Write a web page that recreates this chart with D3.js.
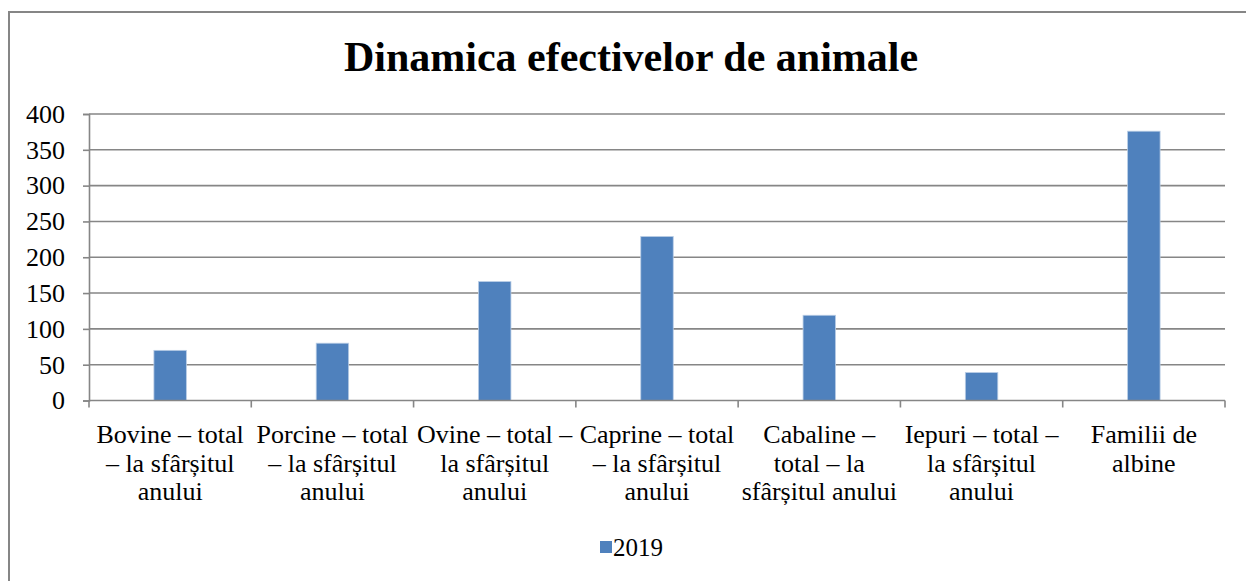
<!DOCTYPE html>
<html>
<head>
<meta charset="utf-8">
<script src="https://cdn.jsdelivr.net/npm/d3@7/dist/d3.min.js"></script>
<style>
  html, body { margin: 0; padding: 0; background: #fff; }
  svg { display: block; }
  text { font-family: "Liberation Serif", "Times New Roman", serif; fill: #000; }
</style>
</head>
<body>
<script>
const title = "Dinamica efectivelor de animale";
const seriesName = "2019";
const categories = [
  "Bovine – total – la sfârșitul anului",
  "Porcine – total – la sfârșitul anului",
  "Ovine – total – la sfârșitul anului",
  "Caprine – total – la sfârșitul anului",
  "Cabaline – total – la sfârșitul anului",
  "Iepuri – total – la sfârșitul anului",
  "Familii de albine"
];
const categoryLines = [
  ["Bovine – total", "– la sfârșitul", "anului"],
  ["Porcine – total", "– la sfârșitul", "anului"],
  ["Ovine – total –", "la sfârșitul", "anului"],
  ["Caprine – total", "– la sfârșitul", "anului"],
  ["Cabaline –", "total – la", "sfârșitul anului"],
  ["Iepuri – total –", "la sfârșitul", "anului"],
  ["Familii de", "albine"]
];
const values2019 = [70, 80, 166, 229, 119, 39, 376];
const yTicks = [0, 50, 100, 150, 200, 250, 300, 350, 400];

const W = 1246, H = 581;
const svg = d3.select("body").append("svg").attr("width", W).attr("height", H);

// outer frame
svg.append("path")
  .attr("d", `M9,${H} L9,12 L${W},12`)
  .attr("fill", "none").attr("stroke", "#868686").attr("stroke-width", 2);

svg.append("text")
  .attr("x", 631).attr("y", 71)
  .attr("text-anchor", "middle")
  .style("font-weight", "bold").style("font-size", "42px")
  .text(title);

const pLeft = 89, pRight = 1225, pTop = 114, pBottom = 400.5;
const x = d3.scaleBand().domain(categories).range([pLeft, pRight]).paddingInner(0).paddingOuter(0);
const y = d3.scaleLinear().domain([0, 400]).range([pBottom, pTop]);

// gridlines
svg.append("g").selectAll("line").data(yTicks.filter(d => d > 0)).join("line")
  .attr("x1", pLeft).attr("x2", pRight)
  .attr("y1", d => y(d)).attr("y2", d => y(d))
  .attr("stroke", "#868686").attr("stroke-width", 1.6);

// y axis
const yAxis = svg.append("g").attr("transform", `translate(${pLeft},0)`)
  .call(d3.axisLeft(y).tickValues(yTicks).tickSize(6).tickPadding(18));
yAxis.select(".domain").attr("stroke", "#868686").attr("stroke-width", 1.6);
yAxis.selectAll(".tick line").attr("stroke", "#868686").attr("stroke-width", 1.6);
yAxis.selectAll(".tick text").style("font-size", "26px").style("font-family", "Liberation Serif").attr("fill", "#000");

// bars
const bw = x.bandwidth() * 0.2;
svg.append("g").selectAll("rect").data(values2019).join("rect")
  .attr("x", (d, i) => x(categories[i]) + x.bandwidth() / 2 - bw / 2)
  .attr("width", bw)
  .attr("y", d => y(d))
  .attr("height", d => y(0) - y(d))
  .attr("fill", "#4F81BD")
  .attr("stroke", "#B9CDE5").attr("stroke-width", 0.8);

// x axis
const xg = svg.append("g").attr("transform", `translate(0,${pBottom})`);
xg.append("line").attr("x1", pLeft).attr("x2", pRight).attr("y1", 0).attr("y2", 0)
  .attr("stroke", "#868686").attr("stroke-width", 1.6);
const boundaries = categories.map(c => x(c)).concat([pRight]);
xg.selectAll("line.tk").data(boundaries).join("line").attr("class", "tk")
  .attr("x1", d => d).attr("x2", d => d).attr("y1", 0).attr("y2", 7)
  .attr("stroke", "#868686").attr("stroke-width", 1.6);

const lab = svg.append("g").selectAll("text").data(categories).join("text")
  .attr("text-anchor", "middle")
  .style("font-size", "26px");
lab.each(function(c, i) {
  const t = d3.select(this);
  categoryLines[i].forEach((ln, j) => {
    t.append("tspan").attr("x", x(c) + x.bandwidth() / 2).attr("y", 443 + j * 28.5).text(ln);
  });
});

// legend
svg.append("rect").attr("x", 600).attr("y", 541).attr("width", 12).attr("height", 12).attr("fill", "#4F81BD");
svg.append("text").attr("x", 613).attr("y", 556).style("font-size", "25px").text(seriesName);
</script>
</body>
</html>
